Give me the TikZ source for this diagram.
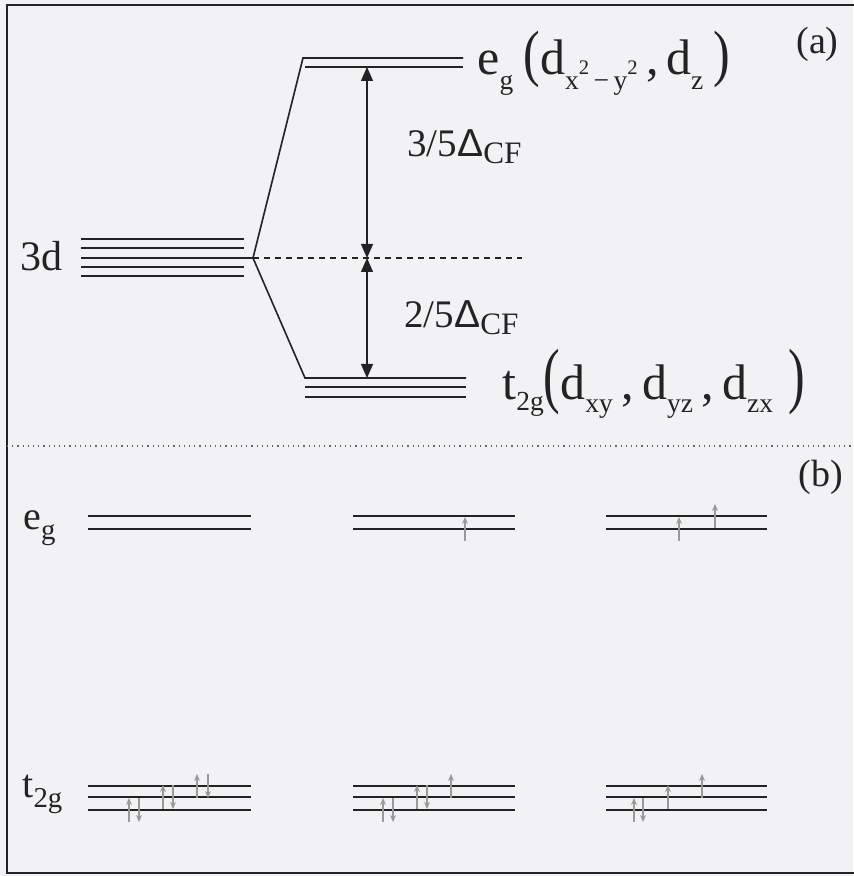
\documentclass[tikz,border=0pt]{standalone}
\usepackage{fontspec}
\setmainfont{Liberation Serif}
\newfontfamily\deltafont{Liberation Sans}
\usetikzlibrary{arrows.meta}
\definecolor{paper}{RGB}{242,242,245}
\definecolor{ink}{RGB}{35,35,35}
\newcommand\sbx[2][0.3em]{\raisebox{-#1}{\scalebox{0.55}{#2}}}
\newcommand\sbb[1]{\raisebox{-0.25em}{\scalebox{0.72}{#1}}}
\newcommand\spx[1]{\raisebox{0.55em}{\scalebox{0.75}{#1}}}
\newcommand\tallpar[2][1.15]{\scalebox{1}[#1]{#2}}
\newcommand\dcf{{\deltafont Δ}\raisebox{-0.17em}{\scalebox{0.8}{CF}}}
\tikzset{
  level/.style = {draw=ink, line width=0.9pt},
  lvlb/.style  = {draw=ink, line width=1.2pt},
  split/.style = {draw=ink, line width=0.8pt},
  gap/.style   = {draw=ink, line width=0.6pt, {Triangle[length=7pt,width=6pt]}-{Triangle[length=7pt,width=6pt]}},
  spin/.style  = {draw=gray!80, line width=0.55pt, -{Stealth[length=3.5pt,width=3pt]}},
  lbl/.style   = {inner sep=0, anchor=base west, text=ink},
  big/.style   = {lbl, font=\fontsize{25}{30}\selectfont},
  mid/.style   = {lbl, font=\fontsize{21}{25}\selectfont},
  sml/.style   = {lbl, font=\fontsize{20}{24}\selectfont}
}

\begin{document}
\begin{tikzpicture}[x=0.5pt,y=-0.5pt]

  \fill[paper] (0,0) rectangle (853,876);
  \useasboundingbox (0,0) rectangle (853,876);
  \draw[ink, line width=0.6pt] (7,5) rectangle (870,873);
  \draw[ink!70, line width=0.6pt, dotted] (7,446) -- (853,446);

  % ---- (a) 3d ----
  \coordinate (v) at (253,258);
  \draw[level] (81,239) -- (244,239);
  \draw[level] (81,248) -- (244,248);
  \draw[level] (81,258) -- (v);
  \draw[level] (81,267) -- (244,267);
  \draw[lvlb]  (81,276) -- (244,276);
  \node[mid] (l3d) at (20,271) {3d};

  % ---- (a) e_g ----
  \coordinate (egA) at (303,58);
  \draw[split] (v) -- (egA) -- (463,58);
  \draw[level] (305,67) -- (463,67);
  \node[big] (leg) at (477,75)
    {e\sbx{g}\hspace{0.2em}\tallpar[1.25]{(}d\sbx{x\spx{2}\,−\,y\spx{2}}\,,\hspace{0.15em}d\sbx{z}\hspace{0.2em}\tallpar[1.25]{)}};

  % ---- (a) t_2g ----
  \coordinate (tA) at (305,378);
  \draw[split] (v) -- (tA) -- (466,378);
  \draw[level] (305,387) -- (466,387);
  \draw[level] (305,397) -- (466,397);
  \node[big] (lt2g) at (502,400)
    {t\sbx[0.22em]{2g}\tallpar[1.45]{(}d\sbx[0.25em]{xy}\,,\,d\sbx[0.25em]{yz}\,,\,d\sbx[0.25em]{zx}\hspace{0.3em}\tallpar[1.45]{)}};

  % ---- (a) splitting ----
  \coordinate (gtop) at (367,67);
  \coordinate (gmid) at (367,258);
  \coordinate (gbot) at (367,378);
  \draw[ink, line width=0.6pt, dash pattern=on 3pt off 2.5pt] (v) -- (522,258);
  \draw[gap] (gtop) -- (gmid);
  \draw[gap] (gmid) -- (gbot);
  \node[lbl, font=\fontsize{19.5}{23}\selectfont] (g35) at (407,157) {3/5\dcf};
  \node[lbl, font=\fontsize{19.5}{23}\selectfont] (g25) at (404,328) {2/5\dcf};
  \node[lbl, font=\fontsize{19}{23}\selectfont] (pa) at (796,54) {(a)};

  % ---- (b) labels ----
  \node[lbl, font=\fontsize{19}{23}\selectfont] (pb) at (798,486) {(b)};
  \node[sml] (beg)  at (23,529) {e\sbb{g}};
  \node[sml] (bt2g) at (22,797) {t\sbb{2g}};

  % ---- (b) levels ----
  \foreach \xa/\xb in {88/251, 353/515, 606/767}{
    \draw[lvlb] (\xa,516) -- (\xb,516);
    \draw[lvlb] (\xa,529) -- (\xb,529);
    \draw[lvlb] (\xa,786) -- (\xb,786);
    \draw[level] (\xa,797) -- (\xb,797);
    \draw[lvlb] (\xa,810) -- (\xb,810);
  }

  % ---- (b) spins ----
  \foreach \x/\y in {465/529, 679/529, 715/516,
                     129/810, 163/797, 197/786,
                     383/810, 417/797, 451/786,
                     634/810, 668/797, 702/786}
    \draw[spin] (\x,\y+12) -- (\x,\y-12);
  \foreach \x/\y in {139/810, 173/797, 208/786,
                     393/810, 427/797,
                     643/810}
    \draw[spin] (\x,\y-12) -- (\x,\y+12);

\end{tikzpicture}
\end{document}
